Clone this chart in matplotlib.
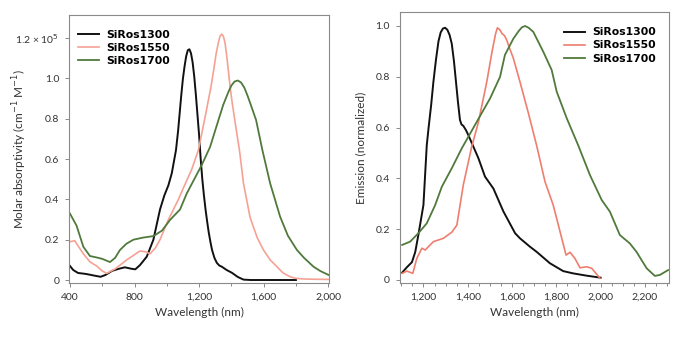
import matplotlib
matplotlib.use("Agg")
import matplotlib.pyplot as plt
from matplotlib.ticker import FixedLocator, MultipleLocator

plt.rcParams['font.family'] = ['Lato', 'DejaVu Sans']

# ---------------- Absorption data (left) ----------------
abs_1300_x = [400, 420, 450, 500, 550, 590, 620, 660, 700, 740, 780, 805, 834, 876, 917, 958, 985, 1010,
              1031, 1057, 1070, 1080, 1090, 1100, 1110, 1120, 1130, 1140, 1150, 1160, 1170, 1180, 1190,
              1200, 1210, 1220, 1230, 1240, 1250, 1260, 1270, 1280, 1295, 1310, 1325, 1341,
              1370, 1403, 1440, 1475, 1520, 1600, 1700, 1800]
abs_1300_y = [0.07, 0.05, 0.035, 0.03, 0.022, 0.016, 0.025, 0.045, 0.055, 0.063, 0.056, 0.053, 0.074,
              0.116, 0.2, 0.35, 0.42, 0.47, 0.53, 0.645, 0.74, 0.83, 0.92, 1.0, 1.06, 1.11, 1.14, 1.145,
              1.125, 1.08, 1.01, 0.92, 0.82, 0.72, 0.6, 0.5, 0.42, 0.35, 0.29, 0.235, 0.19, 0.15,
              0.11, 0.085, 0.072, 0.066, 0.05, 0.036, 0.015, 0.002, 0.0, 0.0, 0.0, 0.0]

abs_1550_x = [400, 430, 450, 483, 524, 565, 600, 628, 680, 752, 834, 870, 896, 930, 958, 1010, 1072,
              1110, 1153, 1196, 1240, 1274, 1290, 1305, 1320, 1330, 1340, 1350, 1360, 1370, 1380, 1392,
              1405, 1420, 1435, 1450, 1475, 1516, 1560, 1599, 1640, 1682, 1720, 1764, 1800, 1850, 1900,
              2000]
abs_1550_y = [0.19, 0.195, 0.17, 0.13, 0.09, 0.07, 0.045, 0.033, 0.055, 0.1, 0.144, 0.14, 0.13, 0.16,
              0.2, 0.3, 0.4, 0.47, 0.546, 0.645, 0.82, 0.96, 1.04, 1.12, 1.18, 1.21, 1.22, 1.21, 1.18,
              1.12, 1.05, 0.96, 0.88, 0.8, 0.72, 0.645, 0.48, 0.31, 0.21, 0.149, 0.1, 0.066, 0.035,
              0.016, 0.008, 0.005, 0.004, 0.003]

abs_1700_x = [400, 441, 483, 524, 565, 600, 648, 680, 710, 750, 793, 850, 917, 970, 1020, 1082, 1124,
              1170, 1216, 1268, 1320, 1350, 1380, 1400, 1420, 1440, 1460, 1480, 1500, 1520, 1553, 1592,
              1640, 1702, 1750, 1806, 1850, 1909, 1950, 2002]
abs_1700_y = [0.33, 0.27, 0.165, 0.119, 0.112, 0.105, 0.089, 0.11, 0.149, 0.18, 0.2, 0.21, 0.218,
              0.245, 0.298, 0.35, 0.43, 0.5, 0.57, 0.66, 0.794, 0.87, 0.93, 0.965, 0.985, 0.99, 0.98,
              0.955, 0.915, 0.87, 0.794, 0.645, 0.48, 0.314, 0.22, 0.149, 0.11, 0.066, 0.045, 0.025]

# ---------------- Emission data (right) ----------------
em_1300_x = [1104, 1125, 1148, 1163, 1177, 1200, 1215, 1223, 1235, 1245, 1257, 1268, 1278, 1288, 1298,
             1308, 1318, 1328, 1338, 1347, 1356, 1365, 1372, 1380, 1392, 1403, 1423, 1448, 1478, 1516,
             1561, 1614, 1636, 1681, 1711, 1771, 1831, 1876, 1937, 2000]
em_1300_y = [0.029, 0.05, 0.07, 0.11, 0.177, 0.295, 0.53, 0.597, 0.69, 0.78, 0.87, 0.94, 0.975, 0.99,
             0.993, 0.985, 0.965, 0.93, 0.86, 0.78, 0.7, 0.63, 0.612, 0.607, 0.59, 0.57, 0.53, 0.48,
             0.407, 0.36, 0.27, 0.184, 0.164, 0.131, 0.111, 0.066, 0.035, 0.026, 0.017, 0.009]

em_1550_x = [1104, 1125, 1152, 1170, 1193, 1208, 1245, 1290, 1328, 1351, 1380, 1418, 1448, 1486, 1510,
             1526, 1534, 1545, 1555, 1566, 1576, 1590, 1606, 1636, 1673, 1711, 1749, 1786, 1817, 1844,
             1862, 1884, 1907, 1937, 1960, 1997]
em_1550_y = [0.026, 0.035, 0.026, 0.085, 0.125, 0.118, 0.151, 0.164, 0.188, 0.216, 0.374, 0.525, 0.62,
             0.78, 0.9, 0.97, 0.993, 0.985, 0.97, 0.962, 0.945, 0.91, 0.873, 0.78, 0.66, 0.53, 0.387,
             0.295, 0.19, 0.098, 0.109, 0.085, 0.048, 0.052, 0.046, 0.007]

em_1700_x = [1104, 1140, 1177, 1215, 1253, 1283, 1328, 1373, 1441, 1501, 1546, 1568, 1606, 1630, 1645,
             1659, 1675, 1696, 1741, 1779, 1802, 1847, 1899, 1952, 2005, 2042, 2087, 2132, 2162, 2208,
             2245, 2268, 2305]
em_1700_y = [0.138, 0.151, 0.184, 0.223, 0.295, 0.367, 0.44, 0.518, 0.623, 0.715, 0.8, 0.886, 0.95,
             0.98, 0.995, 1.0, 0.993, 0.977, 0.899, 0.827, 0.741, 0.637, 0.53, 0.413, 0.315, 0.269,
             0.177, 0.144, 0.111, 0.046, 0.016, 0.02, 0.039]

labels = ['SiRos1300', 'SiRos1550', 'SiRos1700']
colors_left = ['#111111', '#F5A295', '#4F7A3C']
colors_right = ['#111111', '#EE7E70', '#4F7A3C']

abs_xticks = [400, 800, 1200, 1600, 2000]
abs_xticklabels = ['400', '800', '1,200', '1,600', '2,000']
abs_yticks = [0, 0.2, 0.4, 0.6, 0.8, 1.0, 1.2]
abs_yticklabels = ['0', '0.2', '0.4', '0.6', '0.8', '1.0', r'1.2 × 10$^5$']

em_xticks = [1200, 1400, 1600, 1800, 2000, 2200]
em_xticklabels = ['1,200', '1,400', '1,600', '1,800', '2,000', '2,200']
em_yticks = [0, 0.2, 0.4, 0.6, 0.8, 1.0]
em_yticklabels = ['0', '0.2', '0.4', '0.6', '0.8', '1.0']

fig = plt.figure(figsize=(6.76, 3.41), dpi=100)
axL = fig.add_axes([0.102, 0.170, 0.385, 0.786])
axR = fig.add_axes([0.591, 0.170, 0.399, 0.794])

spine_col = '#8a8a8a'
text_col = '#333333'
leg_font = {'family': ['DejaVu Sans'], 'weight': 'bold', 'size': 7.8}


def style(ax):
    for s in ax.spines.values():
        s.set_color(spine_col)
        s.set_linewidth(0.8)
    ax.tick_params(axis='both', which='both', direction='out', color=spine_col,
                   labelcolor=text_col, labelsize=7.5, width=0.7, pad=4)
    ax.tick_params(axis='both', which='major', length=3)
    ax.tick_params(axis='x', which='minor', length=2)
    ax.tick_params(right=False, top=False)


for xs, ys, lab, c, lw in zip([abs_1300_x, abs_1550_x, abs_1700_x],
                              [abs_1300_y, abs_1550_y, abs_1700_y], labels, colors_left,
                              [1.4, 1.2, 1.3]):
    axL.plot(xs, ys, color=c, lw=lw, label=lab)

axL.set_xlim(394, 2006)
axL.set_ylim(-0.015, 1.315)
axL.xaxis.set_major_locator(FixedLocator(abs_xticks))
axL.set_xticklabels(abs_xticklabels)
axL.xaxis.set_minor_locator(MultipleLocator(200))
axL.yaxis.set_major_locator(FixedLocator(abs_yticks))
axL.set_yticklabels(abs_yticklabels)
style(axL)
axL.set_xlabel('Wavelength (nm)', fontsize=8.5, color=text_col, labelpad=4)
axL.set_ylabel(r'Molar absorptivity (cm$^{-1}$ M$^{-1}$)', fontsize=8.5, color=text_col)
axL.yaxis.set_label_coords(-0.155, 0.5)
axL.legend(loc='upper left', frameon=False, prop=leg_font,
           handlelength=1.9, handletextpad=0.7, labelspacing=0.28,
           borderaxespad=0.2, bbox_to_anchor=(0.01, 0.968))

for xs, ys, lab, c, lw in zip([em_1300_x, em_1550_x, em_1700_x],
                              [em_1300_y, em_1550_y, em_1700_y], labels, colors_right,
                              [1.4, 1.2, 1.3]):
    axR.plot(xs, ys, color=c, lw=lw, label=lab)

axR.set_xlim(1092, 2310)
axR.set_ylim(-0.012, 1.054)
axR.xaxis.set_major_locator(FixedLocator(em_xticks))
axR.set_xticklabels(em_xticklabels)
axR.xaxis.set_minor_locator(MultipleLocator(50))
axR.yaxis.set_major_locator(FixedLocator(em_yticks))
axR.set_yticklabels(em_yticklabels)
style(axR)
axR.set_xlabel('Wavelength (nm)', fontsize=8.5, color=text_col, labelpad=4)
axR.set_ylabel('Emission (normalized)', fontsize=8.5, color=text_col)
axR.yaxis.set_label_coords(-0.125, 0.5)
axR.legend(loc='upper right', frameon=False, prop=leg_font,
           handlelength=1.9, handletextpad=0.7, labelspacing=0.28,
           borderaxespad=0.2, bbox_to_anchor=(0.975, 0.968))

fig.savefig('out.png', dpi=100)
